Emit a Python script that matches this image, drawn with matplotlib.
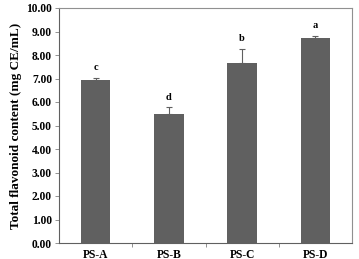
import numpy as np
import matplotlib.pyplot as plt

plt.rcParams['font.family'] = ['Liberation Serif', 'DejaVu Serif']

# flavonoid content per sample
samples = ['PS-A', 'PS-B', 'PS-C', 'PS-D']
content = [6.92, 5.48, 7.65, 8.71]
errors = [0.12, 0.29, 0.60, 0.10]
letters = ['c', 'd', 'b', 'a']

fig = plt.figure(figsize=(3.59, 2.59), dpi=100)
ax = fig.add_axes([59 / 359, 16 / 259, 293 / 359, 235 / 259])

x = np.arange(len(samples))
ax.bar(x, content, width=0.4, color='#606060', zorder=2)
ax.errorbar(x, content, yerr=[np.zeros(len(errors)), errors], fmt='none',
            ecolor='#606060', elinewidth=0.8, capsize=2.5, capthick=0.8,
            zorder=3)
for xi, v, e, s in zip(x, content, errors, letters):
    ax.text(xi, v + e + 0.25, s, ha='center', va='bottom', fontsize=7.5,
            fontweight='bold')

ax.set_xlim(-0.5, len(samples) - 0.5)
ax.set_ylim(0, 10)
ax.set_yticks(np.arange(0, 10.01, 1))
ax.set_yticklabels(['%.2f' % v for v in np.arange(0, 10.01, 1)],
                   fontsize=8.3, fontweight='bold')
ax.set_xticks(x)
ax.set_xticklabels(samples, fontsize=8.3, fontweight='bold')
ax.set_xticks(np.arange(0.5, len(samples) - 1, 1), minor=True)
ax.tick_params(axis='x', which='major', length=0, pad=4)
ax.tick_params(axis='x', which='minor', length=3, width=0.6,
               color='#808080')
ax.tick_params(axis='y', length=3, width=0.6, color='#808080', pad=2)
for sp in ax.spines.values():
    sp.set_color('#909090')
    sp.set_linewidth(0.8)
ax.spines['left'].set_color('#606060')
ax.spines['bottom'].set_color('#606060')

ax.set_ylabel('Total flavonoid content (mg CE/mL)', fontsize=9.5,
              fontweight='bold', labelpad=3)

fig.savefig('out.png', dpi=100)
